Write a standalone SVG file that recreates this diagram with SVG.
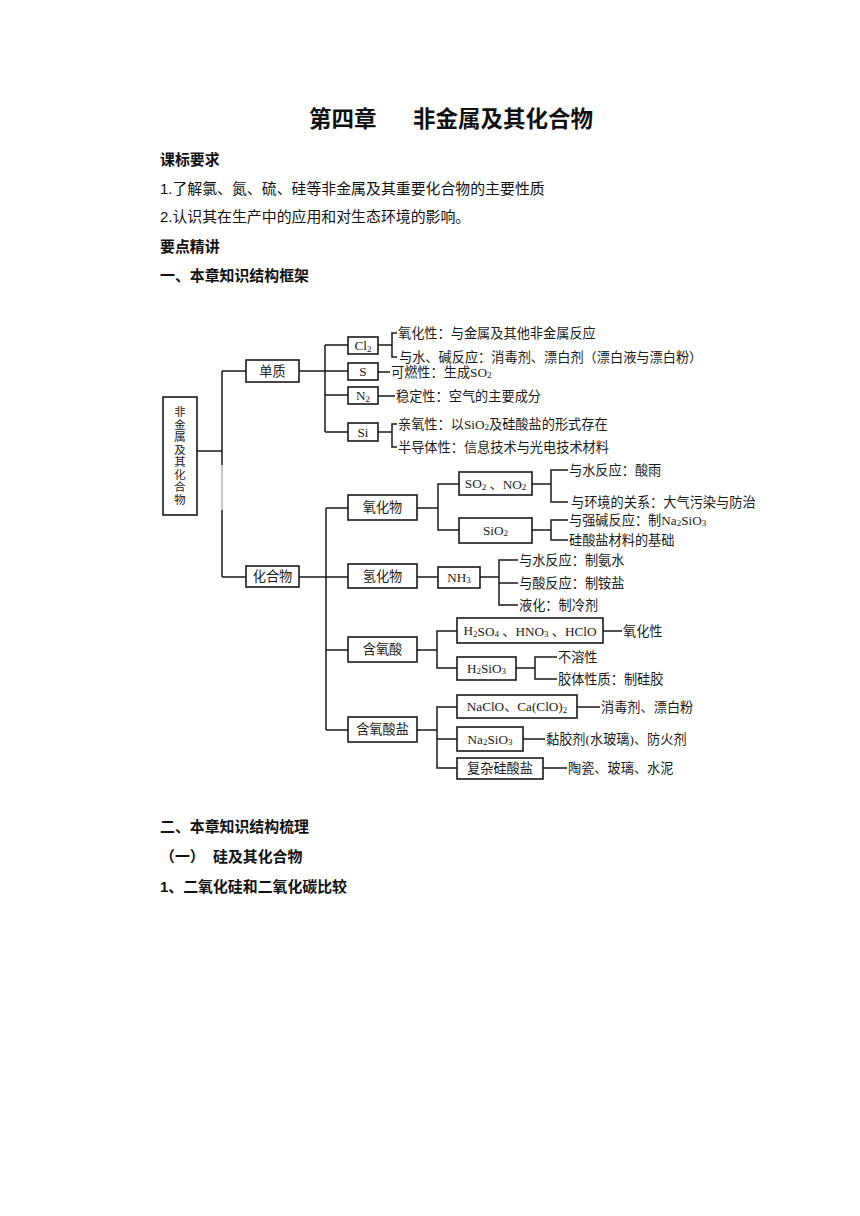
<svg xmlns="http://www.w3.org/2000/svg" width="860" height="1216" viewBox="0 0 860 1216">
<style>
.doc{font-family:"Liberation Sans","Noto Sans CJK SC",sans-serif;font-size:14.9px;fill:#111}
.b{font-weight:bold}
.title{font-family:"Liberation Sans","Noto Sans CJK SC",sans-serif;font-size:22.5px;font-weight:bold;fill:#111}
.box{fill:#fff;stroke:#1a1a1a;stroke-width:1.6}
.ln{fill:none;stroke:#1a1a1a;stroke-width:1.5}
.t{font-family:"Liberation Serif","Noto Sans CJK SC",serif;font-size:13.2px;fill:#1a1a1a;dominant-baseline:central}
.v{font-family:"Noto Sans CJK SC",sans-serif;font-size:11.4px;fill:#1a1a1a;writing-mode:tb;letter-spacing:1.1px}
.c{text-anchor:middle}
.s{font-size:9px}
</style>
<rect width="860" height="1216" fill="#fff"/>
<g id="header">
<text class="title" x="309" y="127">第四章</text>
<text class="title" x="413" y="127">非金属及其化合物</text>
<text class="doc b" x="160" y="165">课标要求</text>
<text class="doc" x="160" y="194">1.了解氯、氮、硫、硅等非金属及其重要化合物的主要性质</text>
<text class="doc" x="160" y="222">2.认识其在生产中的应用和对生态环境的影响。</text>
<text class="doc b" x="160" y="252">要点精讲</text>
<text class="doc b" x="160" y="281">一、本章知识结构框架</text>
<text class="doc b" x="160" y="832">二、本章知识结构梳理</text>
<text class="doc b" x="160" y="862">（一）</text>
<text class="doc b" x="213" y="862">硅及其化合物</text>
<text class="doc b" x="160" y="892">1、二氧化硅和二氧化碳比较</text>
</g>
<g id="connectors">
<path class="ln" d="M197 451H222M222 371V465M222 510V577M222 371H246M222 577H246"/>
<path d="M222 465V510" stroke="#b5b5b5" stroke-width="1.5"/>
<path class="ln" d="M299 371H348M325 345V432M325 345H348M325 395H348M325 432H348"/>
<path class="ln" d="M378 345H392M397 333H392V357H397M378 372H390M378 396H395M378 432H392M397 424H392V447H397"/>
<path class="ln" d="M299 577H348M326 508V730M326 508H348M326 650H348M326 730H348"/>
<path class="ln" d="M417 508H438M459 484H438V530H459M532 484H551M568 470H551V502H568M532 530H551M568 520H551V540H568"/>
<path class="ln" d="M417 577H438M480 577H499M518 560H499V605H518M499 583H518"/>
<path class="ln" d="M417 650H437M457 631H437V668H457M603 631H622M516 668H535M557 657H535V679H557"/>
<path class="ln" d="M417 730H437M457 707H437V768H457M437 739H457M577 707H600M523 739H545M543 768H567"/>
</g>
<g id="root">
<rect class="box" x="163" y="397" width="34" height="118"/>
<text class="v" x="180" y="406">非金属及其化合物</text>
</g>
<g id="danzhi">
<rect class="box" x="246" y="360" width="53" height="22"/>
<text class="t c" x="272.5" y="371">单质</text>
</g>
<g id="huahewu">
<rect class="box" x="246" y="566" width="53" height="21"/>
<text class="t c" x="272.5" y="576.5">化合物</text>
</g>
<g id="cl2">
<rect class="box" x="348" y="337" width="30" height="17"/>
<text class="t c" x="363" y="345.5">Cl<tspan class="s" dy="3">2</tspan></text>
<text class="t" x="398" y="333">氧化性：与金属及其他非金属反应</text>
<text class="t" x="399" y="357">与水、碱反应：消毒剂、漂白剂（漂白液与漂白粉）</text>
</g>
<g id="s">
<rect class="box" x="348" y="363" width="30" height="17"/>
<text class="t c" x="363" y="371.5">S</text>
<text class="t" x="391" y="372">可燃性：生成SO<tspan class="s" dy="3">2</tspan></text>
</g>
<g id="n2">
<rect class="box" x="348" y="387" width="30" height="17"/>
<text class="t c" x="363" y="395.5">N<tspan class="s" dy="3">2</tspan></text>
<text class="t" x="396" y="396">稳定性：空气的主要成分</text>
</g>
<g id="si">
<rect class="box" x="348" y="423" width="30" height="18"/>
<text class="t c" x="363" y="432">Si</text>
<text class="t" x="398" y="424">亲氧性：以SiO<tspan class="s" dy="3">2</tspan><tspan dy="-3">及硅酸盐的形式存在</tspan></text>
<text class="t" x="398" y="447">半导体性：信息技术与光电技术材料</text>
</g>
<g id="yanghuawu">
<rect class="box" x="348" y="495" width="69" height="25"/>
<text class="t c" x="382.5" y="507.5">氧化物</text>
</g>
<g id="so2no2">
<rect class="box" x="459" y="472" width="73" height="23"/>
<text class="t c" x="495.5" y="483.5">SO<tspan class="s" dy="3">2</tspan><tspan dy="-3"> 、NO</tspan><tspan class="s" dy="3">2</tspan></text>
<text class="t" x="569" y="470">与水反应：酸雨</text>
<text class="t" x="571" y="502">与环境的关系：大气污染与防治</text>
</g>
<g id="sio2">
<rect class="box" x="459" y="518" width="73" height="25"/>
<text class="t c" x="495.5" y="530">SiO<tspan class="s" dy="3">2</tspan></text>
<text class="t" x="569" y="520">与强碱反应：制Na<tspan class="s" dy="3">2</tspan><tspan dy="-3">SiO</tspan><tspan class="s" dy="3">3</tspan></text>
<text class="t" x="569" y="540">硅酸盐材料的基础</text>
</g>
<g id="qinghuawu">
<rect class="box" x="348" y="564" width="69" height="24"/>
<text class="t c" x="382.5" y="576">氢化物</text>
</g>
<g id="nh3">
<rect class="box" x="438" y="567" width="42" height="21"/>
<text class="t c" x="459" y="577">NH<tspan class="s" dy="3">3</tspan></text>
<text class="t" x="519" y="560">与水反应：制氨水</text>
<text class="t" x="519" y="583">与酸反应：制铵盐</text>
<text class="t" x="519" y="605">液化：制冷剂</text>
</g>
<g id="hanyangsuan">
<rect class="box" x="348" y="637" width="69" height="25"/>
<text class="t c" x="382.5" y="649.5">含氧酸</text>
</g>
<g id="h2so4">
<rect class="box" x="457" y="618" width="146" height="25"/>
<text class="t c" x="530" y="630.5">H<tspan class="s" dy="3">2</tspan><tspan dy="-3">SO</tspan><tspan class="s" dy="3">4</tspan><tspan dy="-3"> 、HNO</tspan><tspan class="s" dy="3">3</tspan><tspan dy="-3"> 、HClO</tspan></text>
<text class="t" x="623" y="631">氧化性</text>
</g>
<g id="h2sio3">
<rect class="box" x="457" y="657" width="59" height="23"/>
<text class="t c" x="486.5" y="668">H<tspan class="s" dy="3">2</tspan><tspan dy="-3">SiO</tspan><tspan class="s" dy="3">3</tspan></text>
<text class="t" x="558" y="657">不溶性</text>
<text class="t" x="558" y="679">胶体性质：制硅胶</text>
</g>
<g id="hanyangsuanyan">
<rect class="box" x="348" y="717" width="69" height="25"/>
<text class="t c" x="382.5" y="729.5">含氧酸盐</text>
</g>
<g id="naclo">
<rect class="box" x="457" y="695" width="120" height="23"/>
<text class="t c" x="517" y="706.5">NaClO、Ca(ClO)<tspan class="s" dy="3">2</tspan></text>
<text class="t" x="601" y="707">消毒剂、漂白粉</text>
</g>
<g id="na2sio3">
<rect class="box" x="457" y="727" width="66" height="24"/>
<text class="t c" x="490" y="739">Na<tspan class="s" dy="3">2</tspan><tspan dy="-3">SiO</tspan><tspan class="s" dy="3">3</tspan></text>
<text class="t" x="546" y="739">黏胶剂(水玻璃)、防火剂</text>
</g>
<g id="fuza">
<rect class="box" x="457" y="758" width="86" height="21"/>
<text class="t c" x="500" y="768.5">复杂硅酸盐</text>
<text class="t" x="568" y="768">陶瓷、玻璃、水泥</text>
</g>
</svg>
